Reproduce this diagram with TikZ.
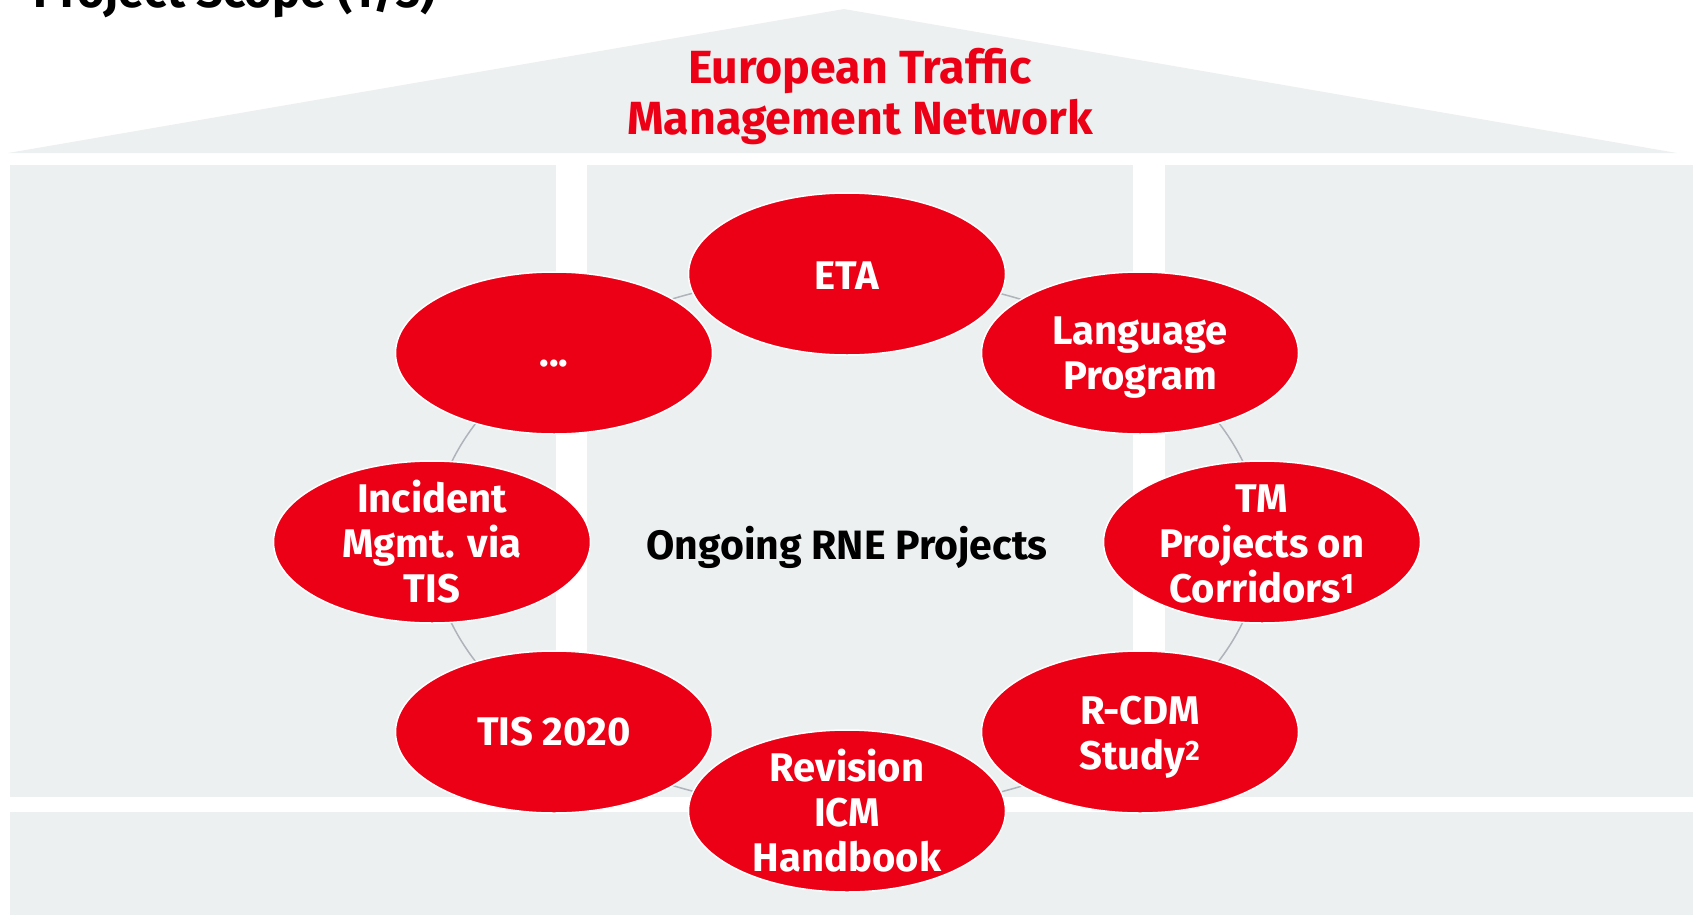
\documentclass[tikz,border=0pt]{standalone}
\usepackage{fontspec}
\setmainfont{Fira Sans}
\usetikzlibrary{shapes.geometric}
\definecolor{dbred}{RGB}{236,0,22}
\definecolor{panel}{RGB}{237,240,241}
\definecolor{arcgray}{RGB}{175,180,187}
\pgfdeclarelayer{bg}
\pgfsetlayers{bg,main}
\begin{document}
\begin{tikzpicture}[x=1pt,y=-1pt,
  proj/.style={ellipse, fill=dbred, draw=white, line width=1.5pt,
    minimum width=317pt, minimum height=162pt, inner sep=0pt},
  projtext/.style={text=white, font=\fontsize{40}{45}\selectfont\bfseries,
    align=center, inner sep=0pt},
  conn/.style={draw=arcgray, line width=1.5pt},
  ring/.style={x radius=415, y radius=268, delta angle=-45}]
\useasboundingbox (0,0) rectangle (1693,915);
\begin{pgfonlayer}{bg}
\fill[panel] (8,153) -- (844,9) -- (1677,153) -- cycle;
\fill[panel] (10,165) rectangle (556,797);
\fill[panel] (587,165) rectangle (1133,797);
\fill[panel] (1165,165) rectangle (1693,797);
\fill[panel] (10,812) rectangle (1693,915);
\end{pgfonlayer}

\node[anchor=base west, inner sep=0pt, font=\fontsize{47}{52}\selectfont\bfseries] (title) at (33,8) {Project Scope (1/3)};

\node[text=dbred, align=center, inner sep=0pt, font=\fontsize{46.5}{51}\selectfont\bfseries] (roof) at (860,97) {European Traffic\\Management Network};

\node[anchor=base, inner sep=0pt, font=\fontsize{41}{46}\selectfont\bfseries] (center) at (847,559) {Ongoing RNE Projects};

\node[proj, label={[projtext, yshift=-2pt]center:ETA}] (eta) at (847,274) {};
\node[proj, label={[projtext]center:\vphantom{ETA}...}] (dots) at (554,353) {};
\node[proj, label={[projtext]center:Incident\\Mgmt. via\\TIS}] (inc) at (432,542) {};
\node[proj, label={[projtext]center:TIS 2020}] (tis) at (554,732) {};
\node[proj, label={[projtext]center:Revision\\ICM\\Handbook}] (rev) at (847,811) {};
\node[proj, label={[projtext, yshift=-5pt]center:R-CDM\\Study\textsuperscript{2}}] (rcdm) at (1140,732) {};
\node[proj, label={[projtext, yshift=-2pt]center:TM\\Projects on\\Corridors\textsuperscript{1}}] (tm) at (1262,542) {};
\node[proj, label={[projtext, yshift=-5pt]center:Language\\Program}] (lang) at (1140,353) {};

\begin{pgfonlayer}{bg}
\draw[conn] (eta.center) arc[ring, start angle=-90];
\draw[conn] (dots.center) arc[ring, start angle=-135];
\draw[conn] (inc.center) arc[ring, start angle=-180];
\draw[conn] (tis.center) arc[ring, start angle=-225];
\draw[conn] (rev.center) arc[ring, start angle=-270];
\draw[conn] (rcdm.center) arc[ring, start angle=-315];
\draw[conn] (tm.center) arc[ring, start angle=-360];
\draw[conn] (lang.center) arc[ring, start angle=-405];
\end{pgfonlayer}
\end{tikzpicture}
\end{document}
